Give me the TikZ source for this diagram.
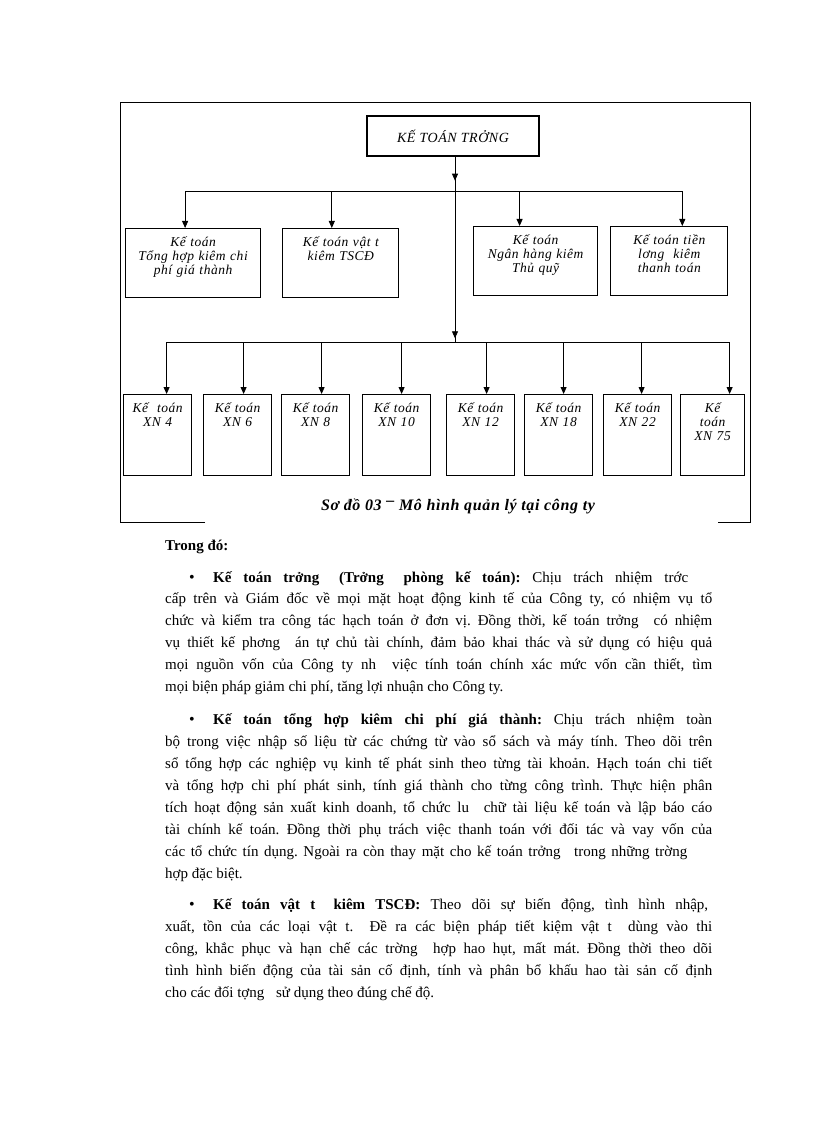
\documentclass[tikz,border=0pt]{standalone}
\usepackage{fontspec}
\setmainfont{Liberation Serif}
\newfontfamily\chartfont[LetterSpace=4]{Liberation Serif}
\usetikzlibrary{arrows.meta, positioning, decorations.markings}
\frenchspacing

\newcommand{\fullline}[1]{\makebox[547pt][s]{#1}}
\newcommand{\gap}{\hspace{8pt}}

\begin{document}
\begin{tikzpicture}[
  x=1pt, y=-1pt,
  node distance=9pt,
  topbox/.style={draw, line width=1.2pt, minimum width=172pt, minimum height=40pt,
                 font=\fontsize{14}{15}\chartfont\itshape},
  unitbox/.style={draw, line width=1.2pt, anchor=north west, align=center,
                  inner xsep=2pt, inner ysep=4pt, text height=14pt, text depth=47pt,
                  font=\fontsize{13.5}{14}\chartfont\itshape},
  xnbox/.style={unitbox, text width=64pt, text depth=59pt},
  conn/.style={line width=0.8pt},
  arrow/.style={conn, -{Triangle[length=7pt, width=6pt]}},
  trunk/.style={conn, postaction={decorate}, decoration={markings,
                mark=at position 0.13 with {\arrow{Triangle[length=7pt, width=6pt]}},
                mark=at position 0.98 with {\arrow{Triangle[length=7pt, width=6pt]}}}},
  caption/.style={font=\fontsize{16}{18}\chartfont\bfseries\itshape},
  txtline/.style={anchor=mid west, inner sep=0pt, font=\fontsize{15}{22}\selectfont},
  dot/.style={anchor=mid west, inner sep=0pt, font=\fontsize{16}{22}\selectfont},
]
  \useasboundingbox (0,0) rectangle (816,1123);

  % frame round the chart, open at the bottom
  \draw[conn] (205,522) -| (120,102) -| (750,522) -- (718,522);

  \node[topbox] (chief) at (453,136) {KẾ TOÁN TRỞNG};

  % first row
  \node[unitbox, text width=131pt] (gen) at (125,228) {Kế toán\\Tổng hợp kiêm chi\\phí giá thành};
  \node[unitbox, text width=112pt, right=21pt of gen.north east, anchor=north west] (mat) {Kế toán vật t\\kiêm TSCĐ};
  \node[unitbox, text width=120pt] (bank) at (473,226) {Kế toán\\Ngân hàng kiêm\\Thủ quỹ};
  \node[unitbox, text width=113pt, right=12pt of bank.north east, anchor=north west] (pay) {Kế toán tiền\\lơng \ kiêm\\thanh toán};

  % second row
  \node[xnbox] (xn4) at (123,394) {Kế \ toán\\XN 4};
  \node[xnbox] (xn6) at (203,394) {Kế toán\\XN 6};
  \node[xnbox] (xn8) at (281,394) {Kế toán\\XN 8};
  \node[xnbox] (xn10) at (362,394) {Kế toán\\XN 10};
  \node[xnbox] (xn12) at (446,394) {Kế toán\\XN 12};
  \node[xnbox] (xn18) at (524,394) {Kế toán\\XN 18};
  \node[xnbox] (xn22) at (603,394) {Kế toán\\XN 22};
  \node[xnbox, text width=60pt] (xn75) at (680,394) {Kế\\toán\\XN 75};

  \coordinate (busA) at (455,191);
  \coordinate (busB) at (455,342);

  \draw[trunk] (chief.south -| busA) -- (busB);
  \draw[arrow] (busA) -| ([xshift=-8pt]gen.north);
  \draw[arrow] (busA) -| ([xshift=-9pt]mat.north);
  \draw[arrow] (busA) -| ([xshift=-16pt]bank.north);
  \draw[arrow] (busA) -| ([xshift=13pt]pay.north);

  \draw[arrow] (busB) -| ([xshift=9pt]xn4.north);
  \draw[arrow] (busB) -| ([xshift=6pt]xn6.north);
  \draw[arrow] (busB) -| ([xshift=6pt]xn8.north);
  \draw[arrow] (busB) -| ([xshift=5pt]xn10.north);
  \draw[arrow] (busB) -| ([xshift=6pt]xn12.north);
  \draw[arrow] (busB) -| ([xshift=5pt]xn18.north);
  \draw[arrow] (busB) -| ([xshift=4pt]xn22.north);
  \draw[arrow] (busB) -| ([xshift=17pt]xn75.north);

  \node[caption] (title) at (458,506) {Sơ đồ 03 \raisebox{0.6ex}{–} Mô hình quản lý tại công ty};

  % text below the chart
  \node[txtline, font=\fontsize{15}{22}\selectfont\bfseries] (intro) at (165,548) {Trong đó:};

  \node[dot] (dot1) at (189,580) {\textbullet};
  \node[txtline] (p1a) at (213,580) {\makebox[475pt][s]{\textbf{Kế toán trởng \gap (Trởng \gap phòng kế toán):} Chịu trách nhiệm trớc}};
  \node[txtline] (p1b) at (165,601) {\fullline{cấp trên và Giám đốc về mọi mặt hoạt động kinh tế của Công ty, có nhiệm vụ tổ}};
  \node[txtline] (p1c) at (165,623) {\fullline{chức và kiểm tra công tác hạch toán ở đơn vị. Đồng thời, kế toán trởng \gap có nhiệm}};
  \node[txtline] (p1d) at (165,645) {\fullline{vụ thiết kế phơng \gap án tự chủ tài chính, đảm bảo khai thác và sử dụng có hiệu quả}};
  \node[txtline] (p1e) at (165,667) {\fullline{mọi nguồn vốn của Công ty nh \gap việc tính toán chính xác mức vốn cần thiết, tìm}};
  \node[txtline] (p1f) at (165,689) {mọi biện pháp giảm chi phí, tăng lợi nhuận cho Công ty.};

  \node[dot] (dot2) at (189,722) {\textbullet};
  \node[txtline] (p2a) at (213,722) {\makebox[499pt][s]{\textbf{Kế toán tổng hợp kiêm chi phí giá thành:} Chịu trách nhiệm toàn}};
  \node[txtline] (p2b) at (165,744) {\fullline{bộ trong việc nhập số liệu từ các chứng từ vào sổ sách và máy tính. Theo dõi trên}};
  \node[txtline] (p2c) at (165,766) {\fullline{sổ tổng hợp các nghiệp vụ kinh tế phát sinh theo từng tài khoản. Hạch toán chi tiết}};
  \node[txtline] (p2d) at (165,788) {\fullline{và tổng hợp chi phí phát sinh, tính giá thành cho từng công trình. Thực hiện phân}};
  \node[txtline] (p2e) at (165,810) {\fullline{tích hoạt động sản xuất kinh doanh, tổ chức lu \gap chữ tài liệu kế toán và lập báo cáo}};
  \node[txtline] (p2f) at (165,832) {\fullline{tài chính kế toán. Đồng thời phụ trách việc thanh toán với đối tác và vay vốn của}};
  \node[txtline] (p2g) at (165,854) {\makebox[522pt][s]{các tổ chức tín dụng. Ngoài ra còn thay mặt cho kế toán trởng \gap trong những trờng}};
  \node[txtline] (p2h) at (165,876) {hợp đặc biệt.};

  \node[dot] (dot3) at (189,907) {\textbullet};
  \node[txtline] (p3a) at (213,907) {\makebox[495pt][s]{\textbf{Kế toán vật t \gap kiêm TSCĐ:} Theo dõi sự biến động, tình hình nhập,}};
  \node[txtline] (p3b) at (165,929) {\fullline{xuất, tồn của các loại vật t. \gap Đề ra các biện pháp tiết kiệm vật t \gap dùng vào thi}};
  \node[txtline] (p3c) at (165,951) {\fullline{công, khắc phục và hạn chế các trờng \gap hợp hao hụt, mất mát. Đồng thời theo dõi}};
  \node[txtline] (p3d) at (165,973) {\fullline{tình hình biến động của tài sản cố định, tính và phân bổ khấu hao tài sản cố định}};
  \node[txtline] (p3e) at (165,995) {cho các đối tợng \gap sử dụng theo đúng chế độ.};
\end{tikzpicture}
\end{document}
